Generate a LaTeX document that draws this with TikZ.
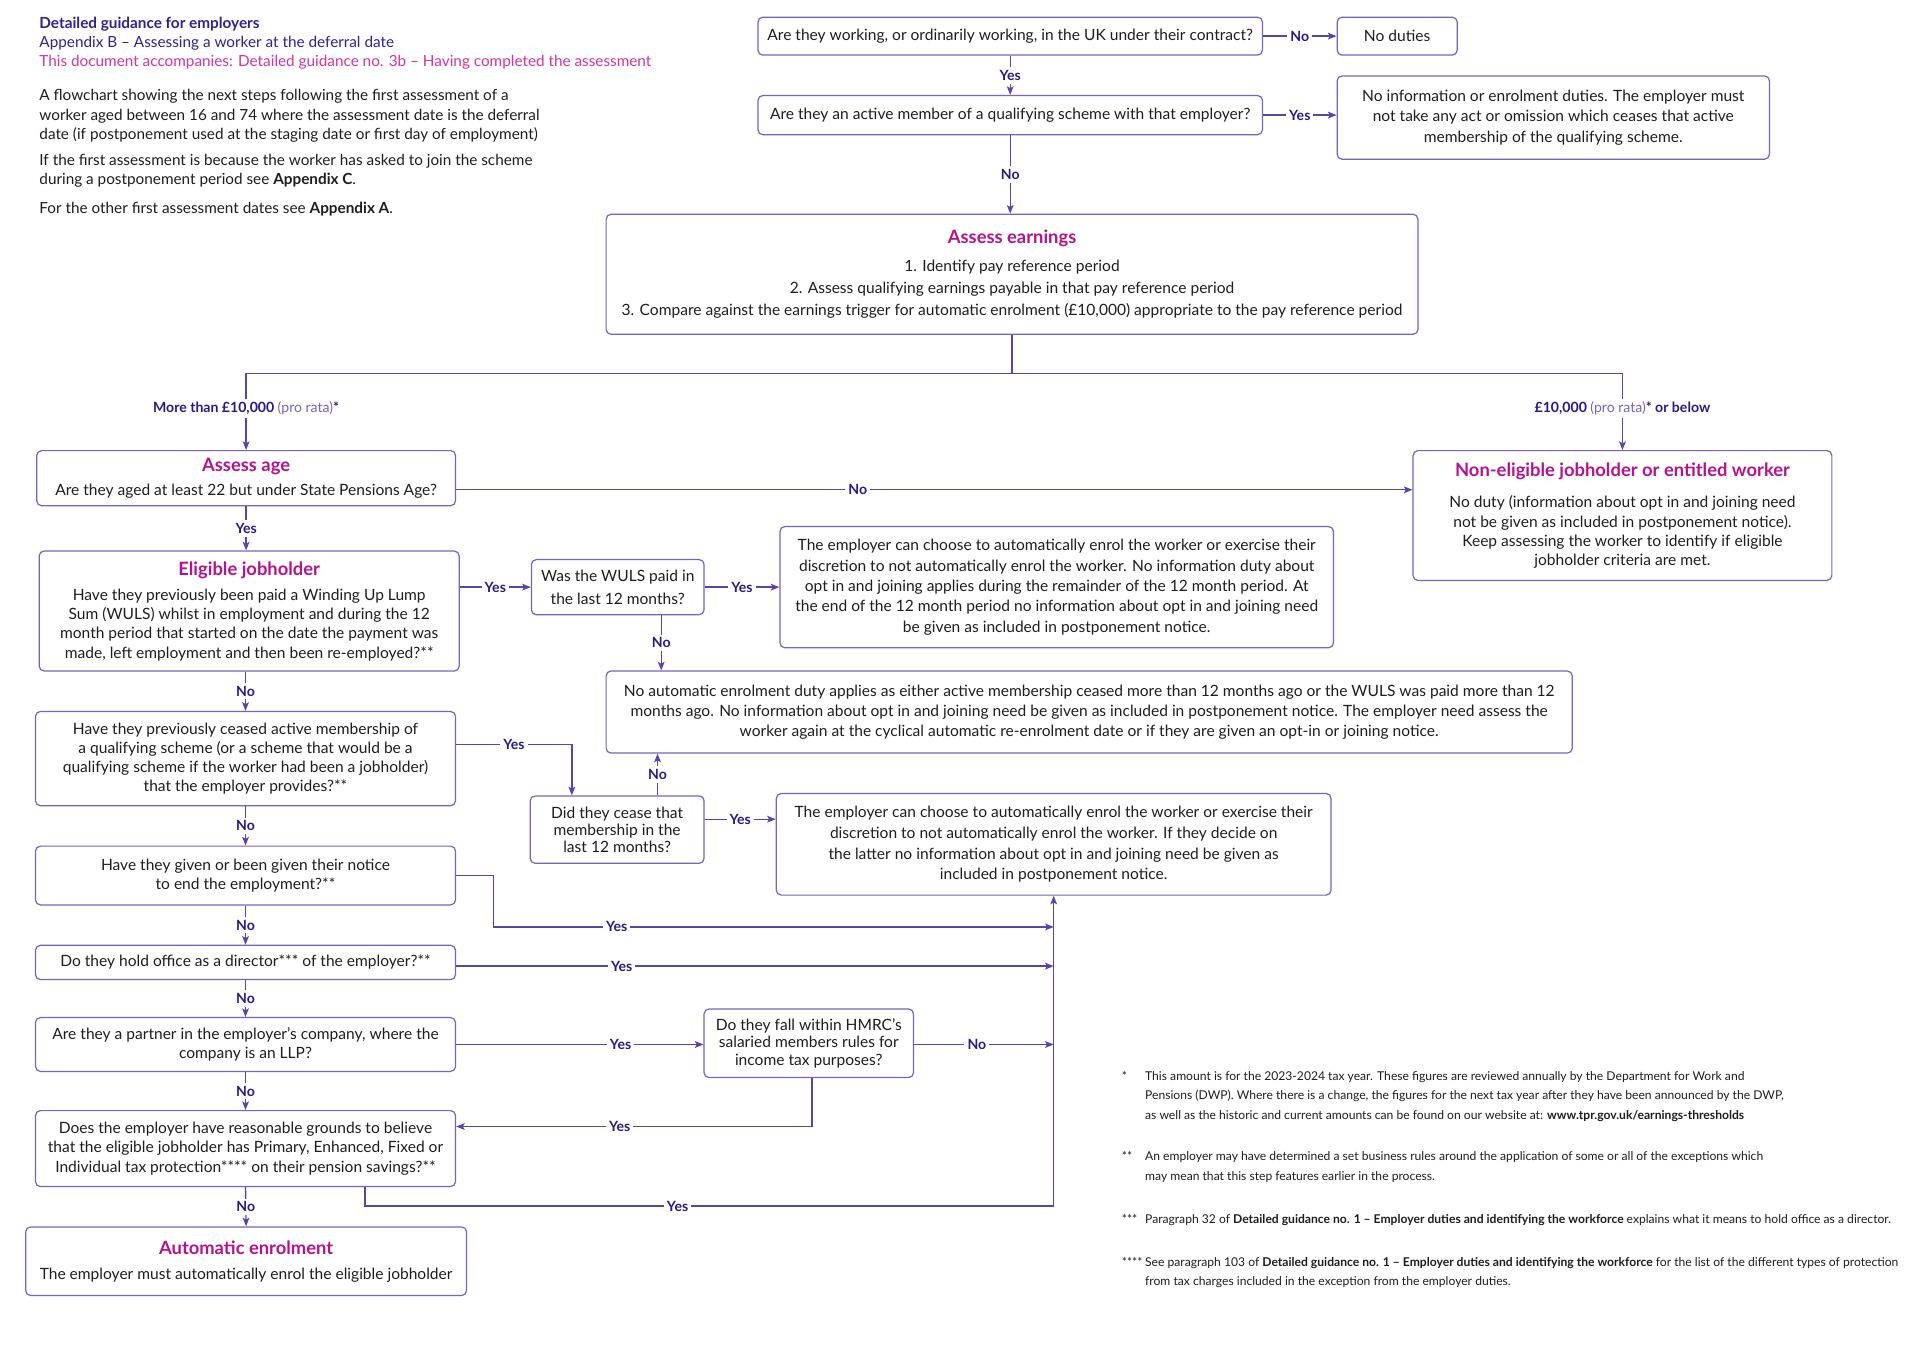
\documentclass[tikz,border=0pt]{standalone}
\usepackage{fontspec}
\setmainfont{Lato}
\usetikzlibrary{arrows.meta,calc}
\definecolor{boxc}{HTML}{7A63BE}
\definecolor{linec}{HTML}{5B44A8}
\definecolor{lblc}{HTML}{2B1A85}
\definecolor{magc}{HTML}{B5128F}
\definecolor{headc}{HTML}{35208F}
\definecolor{mag2}{HTML}{D2359E}
\definecolor{prc}{HTML}{7A63BE}
\definecolor{txt}{HTML}{1E1E1E}
\newcommand\mybody{\fontsize{12.7}{16.5}\selectfont}
\newcommand\mytitle{\fontsize{15}{17}\selectfont\bfseries\color{magc}}
\newcommand\mylbl{\fontsize{11.5}{13}\selectfont\bfseries}
\newcommand\myhead{\fontsize{12.5}{14}\selectfont}
\newcommand\myfoot{\fontsize{9.9}{11}\selectfont}
\newcommand\bfs[1]{\fontsize{12.7}{#1}\selectfont}
\tikzset{
  box/.style={draw=boxc, line width=1pt, rounded corners=4pt, fill=white, align=center, inner sep=2pt, text=txt, font=\mybody},
  ln/.style={draw=linec, line width=1.1pt},
  arr/.style={ln, -{Stealth[length=7pt,width=5.5pt,inset=1.5pt]}},
  lbl/.style={fill=white, inner sep=2.5pt, text=lblc, font=\mylbl},
  hd/.style={anchor=base west, inner sep=0pt, font=\myhead},
  ft/.style={anchor=base west, inner sep=0pt, font=\myfoot, text=txt},
}
\begin{document}
\begin{tikzpicture}[x=1pt,y=-1pt]
\useasboundingbox (0,0) rectangle (1568,1100);
\fill[white] (0,0) rectangle (1568,1100);

% header
\node[hd, text=headc, font=\myhead\bfseries] (h1) at (32,23) {Detailed guidance for employers};
\node[hd, text=headc] (h2) at (32,38.5) {Appendix B – Assessing a worker at the deferral date};
\node[hd, text=mag2] (h3) at (32,54) {This document accompanies: Detailed guidance no. 3b – Having completed the assessment};
\node[hd, text=txt] (p1) at (32,82) {A flowchart showing the next steps following the first assessment of a};
\node[hd, text=txt] (p2) at (32,98) {worker aged between 16 and 74 where the assessment date is the deferral};
\node[hd, text=txt] (p3) at (32,114) {date (if postponement used at the staging date or first day of employment)};
\node[hd, text=txt] (p4) at (32,135) {If the first assessment is because the worker has asked to join the scheme};
\node[hd, text=txt] (p5) at (32,151) {during a postponement period see \textbf{Appendix C}.};
\node[hd, text=txt] (p6) at (32,174) {For the other first assessment dates see \textbf{Appendix A}.};

% boxes
\node[box, minimum width=412pt, minimum height=31pt] (Q1) at (825,29.5) {Are they working, or ordinarily working, in the UK under their contract?};
\node[box, minimum width=98pt, minimum height=31pt] (ND) at (1141,29.5) {No duties};
\node[box, minimum width=412pt, minimum height=32pt] (Q2) at (825,94) {Are they an active member of a qualifying scheme with that employer?};
\node[box, minimum width=353pt, minimum height=68pt, font=\bfs{17}] (NI) at (1268.5,96) {No information or enrolment duties. The employer must\\not take any act or omission which ceases that active\\membership of the qualifying scheme.};
\node[box, minimum width=663pt, minimum height=98pt, font=\bfs{18}] (Earn) at (826.5,224) {{\mytitle Assess earnings}\\[5pt]1. Identify pay reference period\\2. Assess qualifying earnings payable in that pay reference period\\3. Compare against the earnings trigger for automatic enrolment (£10,000) appropriate to the pay reference period};
\node[box, minimum width=342pt, minimum height=45pt] (Age) at (201,390.5) {{\mytitle Assess age}\\[3pt]Are they aged at least 22 but under State Pensions Age?};
\node[box, minimum width=342pt, minimum height=106pt, font=\bfs{15.7}] (NE) at (1325,421) {{\mytitle Non-eligible jobholder or entitled worker}\\[10pt]No duty (information about opt in and joining need\\not be given as included in postponement notice).\\Keep assessing the worker to identify if eligible\\jobholder criteria are met.};
\node[box, minimum width=343pt, minimum height=98pt, font=\bfs{15.7}] (EJ) at (203.5,499) {{\mytitle Eligible jobholder}\\[5pt]Have they previously been paid a Winding Up Lump\\Sum (WULS) whilst in employment and during the 12\\month period that started on the date the payment was\\made, left employment and then been re-employed?**};
\node[box, minimum width=141pt, minimum height=45pt, font=\bfs{19}] (WU) at (504.5,479.5) {Was the WULS paid in\\the last 12 months?};
\node[box, minimum width=452pt, minimum height=99pt, font=\bfs{16.7}] (C1) at (863,479.5) {The employer can choose to automatically enrol the worker or exercise their\\discretion to not automatically enrol the worker. No information duty about\\opt in and joining applies during the remainder of the 12 month period. At\\the end of the 12 month period no information about opt in and joining need\\be given as included in postponement notice.};
\node[box, minimum width=789pt, minimum height=67pt] (NA) at (889.5,581.5) {No automatic enrolment duty applies as either active membership ceased more than 12 months ago or the WULS was paid more than 12\\months ago. No information about opt in and joining need be given as included in postponement notice. The employer need assess the\\worker again at the cyclical automatic re-enrolment date or if they are given an opt-in or joining notice.};
\node[box, minimum width=343pt, minimum height=77pt, font=\bfs{15.7}] (CE) at (200.5,619.5) {Have they previously ceased active membership of\\a qualifying scheme (or a scheme that would be a\\qualifying scheme if the worker had been a jobholder)\\that the employer provides?**};
\node[box, minimum width=142pt, minimum height=55pt, font=\bfs{14}] (DC) at (504,677.5) {Did they cease that\\membership in the\\last 12 months?};
\node[box, minimum width=453pt, minimum height=83pt, font=\bfs{17}] (C2) at (860.5,689.5) {The employer can choose to automatically enrol the worker or exercise their\\discretion to not automatically enrol the worker. If they decide on\\the latter no information about opt in and joining need be given as\\included in postponement notice.};
\node[box, minimum width=343pt, minimum height=48pt, font=\bfs{16}] (NO) at (200.5,715) {Have they given or been given their notice\\to end the employment?**};
\node[box, minimum width=343pt, minimum height=28pt] (DI) at (200.5,786) {Do they hold office as a director*** of the employer?**};
\node[box, minimum width=343pt, minimum height=44pt, font=\bfs{16}] (PA) at (200.5,853) {Are they a partner in the employer’s company, where the\\company is an LLP?};
\node[box, minimum width=171pt, minimum height=56pt, font=\bfs{14}] (HM) at (660.5,852) {Do they fall within HMRC’s\\salaried members rules for\\income tax purposes?};
\node[box, minimum width=343pt, minimum height=62pt, font=\bfs{16}] (PR) at (200.5,938) {Does the employer have reasonable grounds to believe\\that the eligible jobholder has Primary, Enhanced, Fixed or\\Individual tax protection**** on their pension savings?**};
\node[box, minimum width=360pt, minimum height=56pt] (AE) at (201,1030) {{\mytitle Automatic enrolment}\\[4pt]The employer must automatically enrol the eligible jobholder};

% connectors
\draw[arr] (Q1) -- node[lbl]{No} (ND);
\draw[arr] (Q1) -- node[lbl]{Yes} (Q2);
\draw[arr] (Q2.east) -- node[lbl]{Yes} (Q2.east -| NI.west);
\draw[arr] (Q2.south) -- node[lbl]{No} (Q2.south |- Earn.north);

\coordinate (sp) at (826.5,305);
\coordinate (spL) at (201,305);
\coordinate (spR) at (1325,305);
\draw[ln] (Earn.south) -- (sp);
\draw[ln] (spL) -- (spR);
\draw[arr] (spL) -- node[lbl,pos=0.46]{More than £10,000 {\mdseries\color{prc}(pro rata)}*} (Age.north);
\draw[arr] (spR) -- node[lbl,pos=0.46]{£10,000 {\mdseries\color{prc}(pro rata)}* or below} (NE.north);

\coordinate (ageE) at ($(Age.east)+(0,9.5)$);
\draw[arr] (ageE) -- node[lbl,pos=0.42]{No} (ageE -| NE.west);
\draw[arr] (Age.south) -- node[lbl]{Yes} (Age.south |- EJ.north);

\draw[arr] (EJ.east |- WU.west) -- node[lbl]{Yes} (WU.west);
\draw[arr] (WU.east) -- node[lbl]{Yes} (WU.east -| C1.west);
\coordinate (wd) at ($(WU.south)+(35.5,0)$);
\draw[arr] (wd) -- node[lbl]{No} (wd |- NA.north);
\draw[arr] (CE.north |- EJ.south) -- node[lbl]{No} (CE.north);

\coordinate (ce) at ($(CE.east)+(0,-11.5)$);
\coordinate (dt) at ($(DC.north)+(-37,0)$);
\draw[arr] (ce) -| node[lbl,pos=0.25]{Yes} (dt);
\coordinate (du) at ($(DC.north)+(33,0)$);
\draw[arr] (du) -- node[lbl]{No} (du |- NA.south);
\coordinate (de) at ($(DC.east)+(0,-8.5)$);
\draw[arr] (de) -- node[lbl]{Yes} (de -| C2.west);

\draw[arr] (CE.south) -- node[lbl]{No} (NO.north);
\coordinate (nk) at (403,757);
\coordinate (t1) at (860.5,757);
\draw[arr] (NO.east) -| (nk) -- node[lbl,pos=0.22]{Yes} (t1);
\draw[arr] (NO.south) -- node[lbl]{No} (DI.north);
\coordinate (die) at ($(DI.east)+(0,3)$);
\coordinate (t2) at (860.5,789);
\draw[arr] (die) -- node[lbl,pos=0.277]{Yes} (t2);
\draw[arr] (DI.south) -- node[lbl]{No} (PA.north);
\draw[arr] (PA.east) -- node[lbl,pos=0.665]{Yes} (PA.east -| HM.west);
\coordinate (t3) at (860.5,853);
\draw[arr] (HM.east |- t3) -- node[lbl,pos=0.45]{No} (t3);
\coordinate (hs) at ($(HM.south)+(2.5,0)$);
\coordinate (pe) at ($(PR.east)+(0,-18)$);
\draw[arr] (hs) |- node[lbl,pos=0.77]{Yes} (pe);
\draw[arr] (PA.south) -- node[lbl]{No} (PR.north);
\coordinate (ps) at ($(PR.south)+(97.5,0)$);
\coordinate (tb) at (860.5,985);
\draw[arr] (ps) |- node[lbl,pos=0.727]{Yes} (tb) -- (C2.south);
\draw[arr] (PR.south) -- node[lbl]{No} (AE.north);

% footnotes
\node[ft] (f1m) at (916,882) {*};
\node[ft] (f1a) at (935,882) {This amount is for the 2023-2024 tax year. These figures are reviewed annually by the Department for Work and};
\node[ft] (f1b) at (935,898) {Pensions (DWP). Where there is a change, the figures for the next tax year after they have been announced by the DWP,};
\node[ft] (f1c) at (935,914) {as well as the historic and current amounts can be found on our website at: \textbf{www.tpr.gov.uk/earnings-thresholds}};
\node[ft] (f2m) at (916,948) {**};
\node[ft] (f2a) at (935,948) {An employer may have determined a set business rules around the application of some or all of the exceptions which};
\node[ft] (f2b) at (935,964) {may mean that this step features earlier in the process.};
\node[ft] (f3m) at (916,999) {***};
\node[ft] (f3a) at (935,999) {Paragraph 32 of \textbf{Detailed guidance no. 1 – Employer duties and identifying the workforce} explains what it means to hold office as a director.};
\node[ft] (f4m) at (916,1034) {****};
\node[ft] (f4a) at (935,1034) {See paragraph 103 of \textbf{Detailed guidance no. 1 – Employer duties and identifying the workforce} for the list of the different types of protection};
\node[ft] (f4b) at (935,1050) {from tax charges included in the exception from the employer duties.};
\end{tikzpicture}
\end{document}
